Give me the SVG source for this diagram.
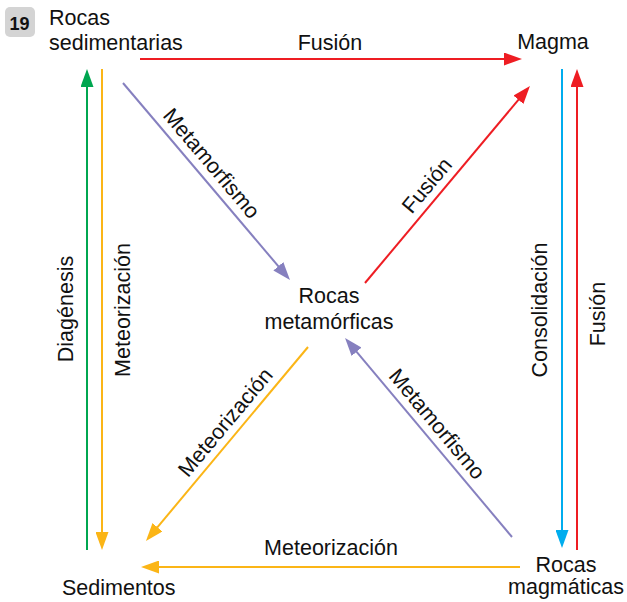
<svg xmlns="http://www.w3.org/2000/svg" width="627" height="602" viewBox="0 0 627 602">
<style>
  text { font-family: "Liberation Sans", Arial, sans-serif; font-size: 21.5px; fill: #111111; }
  .mid { text-anchor: middle; }
  .ln { fill: none; stroke-width: 2; }
  .red { stroke: #ee1d23; }
  .pur { stroke: #8680bf; }
  .yel { stroke: #fbb516; }
  .grn { stroke: #00a650; }
  .blu { stroke: #00adee; }
</style>
<defs>
  <marker id="mRed" markerUnits="userSpaceOnUse" markerWidth="18" markerHeight="13" refX="12" refY="6.5" orient="auto"><path d="M0,0 L18,6.5 L0,13 z" fill="#ee1d23"/></marker>
  <marker id="mPur" markerUnits="userSpaceOnUse" markerWidth="18" markerHeight="13" refX="12" refY="6.5" orient="auto"><path d="M0,0 L18,6.5 L0,13 z" fill="#8680bf"/></marker>
  <marker id="mYel" markerUnits="userSpaceOnUse" markerWidth="18" markerHeight="13" refX="12" refY="6.5" orient="auto"><path d="M0,0 L18,6.5 L0,13 z" fill="#fbb516"/></marker>
  <marker id="mGrn" markerUnits="userSpaceOnUse" markerWidth="18" markerHeight="13" refX="12" refY="6.5" orient="auto"><path d="M0,0 L18,6.5 L0,13 z" fill="#00a650"/></marker>
  <marker id="mBlu" markerUnits="userSpaceOnUse" markerWidth="18" markerHeight="13" refX="12" refY="6.5" orient="auto"><path d="M0,0 L18,6.5 L0,13 z" fill="#00adee"/></marker>
</defs>
<rect width="627" height="602" fill="#ffffff"/>

<g id="badge">
  <rect x="5" y="7" width="30" height="30" rx="5" fill="#d4d4d4"/>
  <text x="19.5" y="29.5" class="mid" style="font-weight:bold;font-size:18px">19</text>
</g>

<g id="connectors">
  <path class="ln red" d="M140,59 L516,59" marker-end="url(#mRed)"/>
  <path class="ln pur" d="M123,83 L286.1,275.4" marker-end="url(#mPur)"/>
  <path class="ln red" d="M365,283 L526.1,90.6" marker-end="url(#mRed)"/>
  <path class="ln yel" d="M308,347 L149.8,536.4" marker-end="url(#mYel)"/>
  <path class="ln pur" d="M512,537 L348.9,342.6" marker-end="url(#mPur)"/>
  <path class="ln yel" d="M520,567 L147,567" marker-end="url(#mYel)"/>
  <path class="ln grn" d="M87,550 L87,75" marker-end="url(#mGrn)"/>
  <path class="ln yel" d="M102,69 L102,544" marker-end="url(#mYel)"/>
  <path class="ln blu" d="M562,69 L562,542" marker-end="url(#mBlu)"/>
  <path class="ln red" d="M577,550 L577,75" marker-end="url(#mRed)"/>

  <text class="mid" x="330" y="50">Fusión</text>
  <text class="mid" x="331" y="555">Meteorización</text>
  <text class="mid" transform="translate(199.9,173.2) rotate(49.8)" y="-8">Metamorfismo</text>
  <text class="mid" transform="translate(438.6,195.1) rotate(-50)" y="-8">Fusión</text>
  <text class="mid" transform="translate(237.1,432) rotate(-50.1)" y="-8">Meteorización</text>
  <text class="mid" transform="translate(425.4,433.8) rotate(50)" y="-8">Metamorfismo</text>
  <text class="mid" transform="translate(73,309) rotate(-90)">Diagénesis</text>
  <text class="mid" transform="translate(130,310) rotate(-90)">Meteorización</text>
  <text class="mid" transform="translate(547,310) rotate(-90)">Consolidación</text>
  <text class="mid" transform="translate(605,314) rotate(-90)">Fusión</text>
</g>

<g id="rocas-sedimentarias">
  <text x="49" y="25">Rocas</text>
  <text x="49" y="50">sedimentarias</text>
</g>
<g id="magma">
  <text class="mid" x="553" y="49">Magma</text>
</g>
<g id="rocas-metamorficas">
  <text class="mid" x="329" y="303">Rocas</text>
  <text class="mid" x="329" y="329">metamórficas</text>
</g>
<g id="sedimentos">
  <text x="62" y="595">Sedimentos</text>
</g>
<g id="rocas-magmaticas">
  <text class="mid" x="566" y="572">Rocas</text>
  <text class="mid" x="566" y="594">magmáticas</text>
</g>
</svg>
